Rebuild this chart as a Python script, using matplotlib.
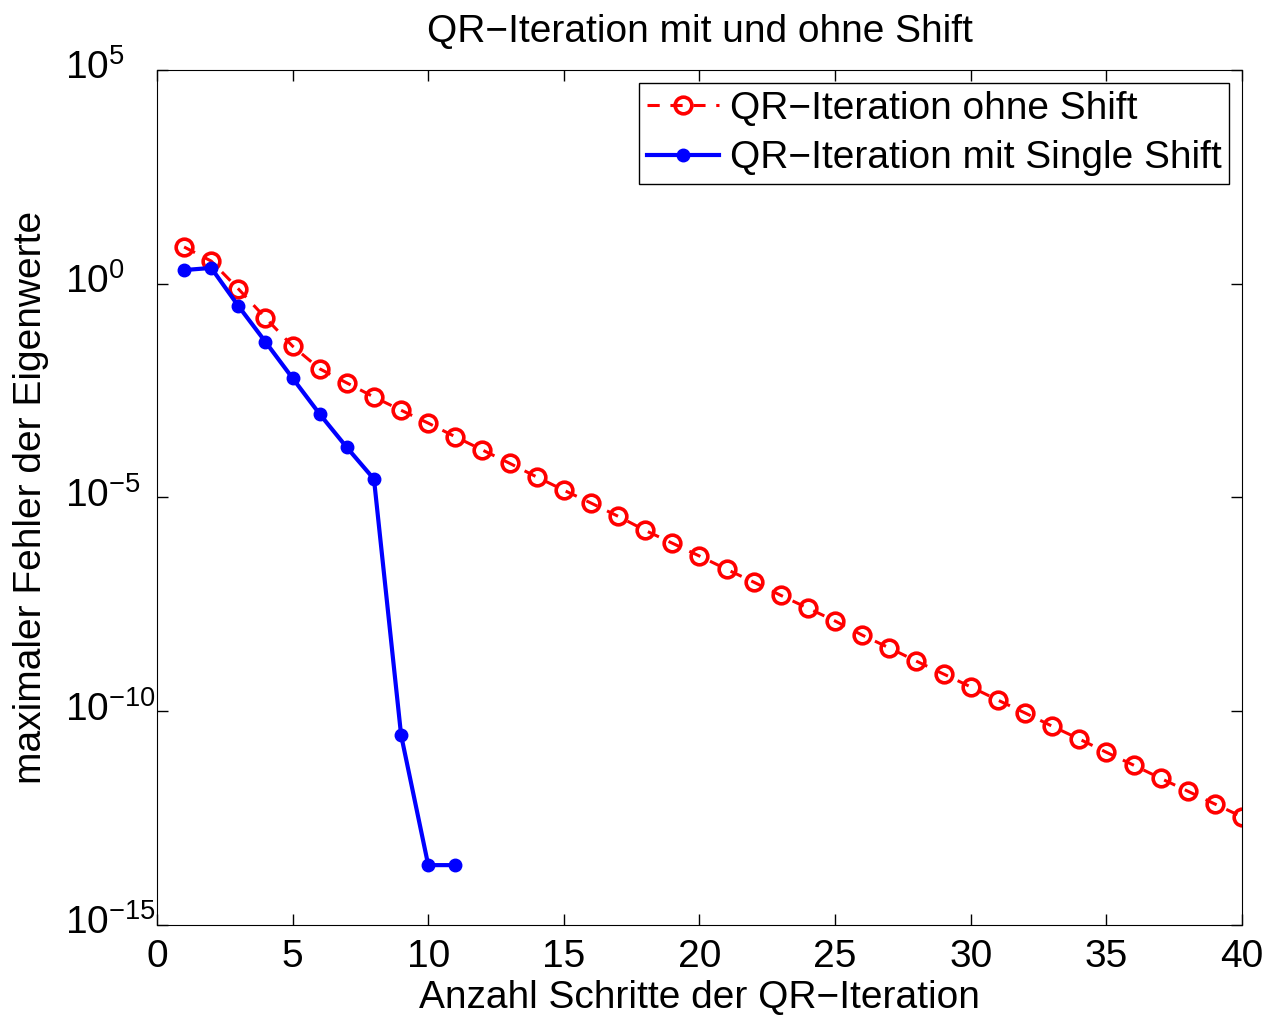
import matplotlib
matplotlib.use('Agg')
import matplotlib.pyplot as plt
import matplotlib.transforms as mtransforms
import numpy as np

# log10 of maximal eigenvalue error
steps_noshift = list(range(1, 41))
logerr_noshift = [0.86, 0.53, -0.12, -0.80, -1.46, -1.99, -2.32, -2.65, -2.96, -3.26,
                  -3.58, -3.89, -4.20, -4.52, -4.83, -5.13, -5.44, -5.77, -6.07, -6.37,
                  -6.68, -6.98, -7.29, -7.59, -7.89, -8.22, -8.52, -8.83, -9.13, -9.43,
                  -9.74, -10.04, -10.35, -10.65, -10.96, -11.26, -11.57, -11.87, -12.17, -12.47]
steps_shift = list(range(1, 12))
logerr_shift = [0.32, 0.37, -0.52, -1.36, -2.21, -3.05, -3.83, -4.57, -10.56, -13.6, -13.6]

yticks = [1e-15, 1e-10, 1e-5, 1e0, 1e5]
ytick_labels = [r'$10^{-15}$', r'$10^{-10}$', r'$10^{-5}$', r'$10^{0}$', r'$10^{5}$']

plt.rcParams['font.family'] = ['Liberation Sans', 'DejaVu Sans']
plt.rcParams['mathtext.fontset'] = 'custom'
plt.rcParams['mathtext.rm'] = 'Liberation Sans'
plt.rcParams['mathtext.it'] = 'Liberation Sans'

FS = 28

fig = plt.figure(figsize=(12.68, 10.16), dpi=100)
ax = fig.add_axes([0.1238, 0.0896, 0.8557, 0.8415])

ax.semilogy(steps_noshift, 10 ** np.array(logerr_noshift), '--o', color='red',
            lw=2.2, ms=12, mfc='none', mew=2.6, dashes=(4, 3.5),
            label='QR\u2212Iteration ohne Shift')
ax.semilogy(steps_shift, 10 ** np.array(logerr_shift), '-o', color='blue',
            lw=3, ms=9, label='QR\u2212Iteration mit Single Shift')

ax.set_xlim(0, 40)
ax.set_ylim(1e-15, 1e5)
ax.set_xticks(range(0, 41, 5))
ax.set_yticks(yticks)
ax.set_yticklabels(ytick_labels)
ax.yaxis.set_minor_locator(matplotlib.ticker.NullLocator())
ax.tick_params(direction='in', length=8, width=1, labelsize=FS, top=True, right=True)
ax.tick_params(axis='x', pad=10)
# matlab keeps the "10" in place and lets the exponent hang to the right
ax.tick_params(axis='y', pad=66)
shift_up = mtransforms.ScaledTranslation(0, 4 / 72, fig.dpi_scale_trans)
for lbl in ax.get_yticklabels():
    lbl.set_horizontalalignment('left')
    lbl.set_transform(lbl.get_transform() + shift_up)

ax.set_title('QR\u2212Iteration mit und ohne Shift', fontsize=FS, pad=20)
ax.set_xlabel('Anzahl Schritte der QR\u2212Iteration', fontsize=FS, labelpad=4)
ax.set_ylabel('maximaler Fehler der Eigenwerte', fontsize=FS, labelpad=12)

leg = ax.legend(loc='upper right', fontsize=FS, fancybox=False, edgecolor='black',
                framealpha=1, handlelength=1.85, handletextpad=0.28, borderpad=0.2,
                labelspacing=0.35, borderaxespad=0.33)
leg.get_frame().set_linewidth(1)

fig.savefig('out.png')
